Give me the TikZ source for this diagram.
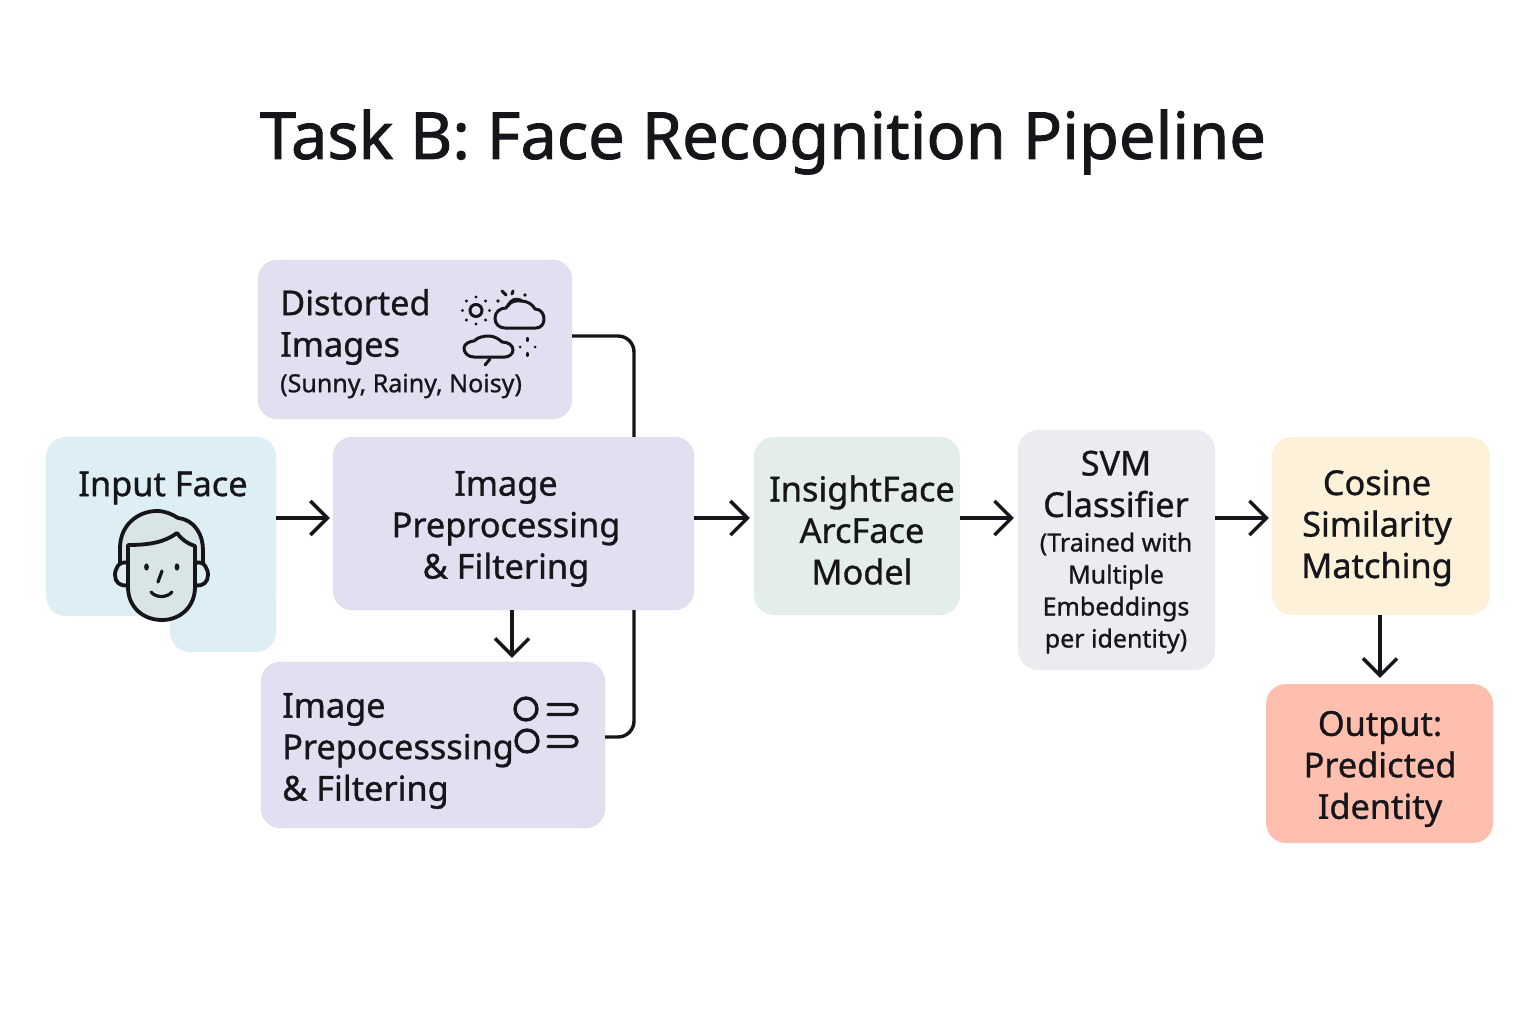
\documentclass[tikz,border=0pt]{standalone}
\usepackage{fontspec}
\setmainfont{Noto Sans}[FakeBold=0.9]
\newfontfamily\headfont{Noto Sans}[FakeBold=1.4]
\usetikzlibrary{arrows.meta}
\definecolor{inputblue}{HTML}{DDEEF5}
\definecolor{lavender}{HTML}{E2E0F0}
\definecolor{lavenderedge}{HTML}{DAD8EA}
\definecolor{modelgreen}{HTML}{E2EEE7}
\definecolor{svmgray}{HTML}{ECECF0}
\definecolor{cosinecream}{HTML}{FDF1DA}
\definecolor{outputred}{HTML}{FFBFAE}
\definecolor{inkblack}{HTML}{15151A}
\definecolor{facegray}{HTML}{D8E4E6}
\tikzset{
	box/.style={rounded corners=20pt,inner sep=0pt},
	label/.style={align=center,text=inkblack,inner sep=0pt,font=\fontsize{34.3}{41.5}\selectfont},
	leftlabel/.style={label,align=left,anchor=west},
	small/.style={font=\fontsize{25}{32}\selectfont},
	link/.style={draw=inkblack,line width=3.4pt,rounded corners=16pt},
	flow/.style={draw=inkblack,line width=3.4pt,-{Straight Barb[length=17pt,width=34pt,line width=3.4pt]}},
	icon/.style={draw=inkblack,line width=3pt,line cap=round,line join=round},
	dot/.style={fill=inkblack,draw=none}
}
\begin{document}
\begin{tikzpicture}[x=1pt,y=-1pt]
	\useasboundingbox (0,0) rectangle (1536,1024);
	\node[label,font=\headfont\fontsize{65}{70}\selectfont] (title) at (763,142) {Task B: Face Recognition Pipeline};
	% boxes
	\node[box,fill=inputblue,minimum width=106pt,minimum height=215pt] (inputlow) at (223,544.5) {};
	\node[box,fill=inputblue,minimum width=230pt,minimum height=179pt] (input) at (161,526.5) {};
	\node[box,fill=lavender,draw=lavenderedge,minimum width=314pt,minimum height=159pt] (distorted) at (415,339.5) {};
	\node[box,fill=lavender,draw=lavenderedge,minimum width=361pt,minimum height=173pt] (prep) at (513.5,523.5) {};
	\node[box,fill=lavender,draw=lavenderedge,minimum width=344pt,minimum height=166pt] (filter) at (433,745) {};
	\node[box,fill=modelgreen,minimum width=206pt,minimum height=178pt] (model) at (857,526) {};
	\node[box,fill=svmgray,minimum width=197pt,minimum height=240pt] (svm) at (1116.5,550) {};
	\node[box,fill=cosinecream,minimum width=218pt,minimum height=178pt] (cosine) at (1381,526) {};
	\node[box,fill=outputred,minimum width=227pt,minimum height=159pt] (output) at (1379.5,763.5) {};
	% texts
	\node[label] (inputtext) at (163,488) {Input Face};
	\node[leftlabel] (distortedtext) at (280,327) {Distorted\\Images};
	\node[leftlabel,small] (distortedsub) at (280,386) {(Sunny, Rainy, Noisy)};
	\node[label] (preptext) at (506,529) {Image\\Preprocessing\\\& Filtering};
	\node[leftlabel] (filtertext) at (282,751) {Image\\Prepocesssing\\\& Filtering};
	\node[label] (modeltext) at (862,530) {InsightFace\\ArcFace\\Model};
	\node[label] (svmtext) at (1116,484) {SVM\\Classifier};
	\node[label,small] (svmsub) at (1116,593) {(Trained with\\Multiple\\Embeddings\\per identity)};
	\node[label] (cosinetext) at (1377,528) {Cosine\\Similarity\\Matching};
	\node[label] (outputtext) at (1380,769) {Output:\\Predicted\\Identity};
	% connectors
	\coordinate (midrow) at (0,518);
	\coordinate (upperlink) at (634,336);
	\coordinate (lowerlink) at (634,737);
	\coordinate (downrow) at (512,0);
	\coordinate (outcol) at (1380,0);
	\draw[link] (distorted.east |- upperlink) -- (upperlink) -- (upperlink |- prep.north);
	\draw[link] (filter.east |- lowerlink) -- (lowerlink) -- (lowerlink |- prep.south);
	\draw[flow,shorten >=3pt] (input.east |- midrow) -- (prep.west |- midrow);
	\draw[flow,shorten >=4pt] (prep.east |- midrow) -- (model.west |- midrow);
	\draw[flow,shorten >=4pt] (model.east |- midrow) -- (svm.west |- midrow);
	\draw[flow,shorten >=3pt] (svm.east |- midrow) -- (cosine.west |- midrow);
	\draw[flow,shorten >=4pt] (prep.south -| downrow) -- (filter.north -| downrow);
	\draw[flow,shorten >=6pt] (cosine.south -| outcol) -- (output.north -| outcol);
	% face
	\filldraw[icon,line width=3.8pt,fill=facegray] (120,567) -- (120,548) .. controls (120,525) and (138,511) .. (157,511) .. controls (165,511) and (172,514) .. (178,518) .. controls (195,520) and (203,535) .. (203,550) -- (203,567) -- cycle;
	\filldraw[icon,line width=3.8pt,fill=inputblue] (128,563) .. controls (118,560) and (115,570) .. (115,575) .. controls (115,582) and (120,587) .. (128,585);
	\filldraw[icon,line width=3.8pt,fill=inputblue] (195,563) .. controls (205,560) and (208,570) .. (208,575) .. controls (208,582) and (203,587) .. (195,585);
	\filldraw[icon,line width=3.8pt,fill=facegray] (128,545) .. controls (150,545) and (165,542) .. (177,533) .. controls (181,539) and (188,544) .. (195,546) -- (195,587) .. controls (195,607) and (180,620) .. (162,620) .. controls (143,620) and (128,607) .. (128,587) -- cycle;
	\fill[dot] (146.5,567) ellipse (2.4pt and 3.6pt);
	\fill[dot] (177,567) ellipse (2.4pt and 3.6pt);
	\draw[icon,line width=3.2pt] (162,571) -- (158,582);
	\draw[icon,line width=3.2pt] (151,592) .. controls (156,598) and (167,598) .. (172,592);
	% weather
	\draw[icon] (476,310.5) circle (6pt);
	\foreach \a in {0,45,...,315}
		\fill[dot] (476,310.5) ++(\a:13.5pt) circle (1.7pt);
	\draw[icon] (508,306) .. controls (510,300) and (516,297) .. (522,301);
	\draw[icon] (505,328) .. controls (499,328) and (495,324) .. (495,318) .. controls (495,312) and (500,308) .. (506,308) .. controls (509,302) and (515,300) .. (521,301) .. controls (528,301) and (533,305) .. (535,309) .. controls (541,309) and (544,314) .. (544,319) .. controls (544,324) and (541,328) .. (536,328) -- cycle;
	\draw[icon] (502,291) -- (506,295);
	\draw[icon] (513,291) -- (512,294);
	\fill[dot] (525,295) circle (1.8pt);
	\fill[dot] (498,301) circle (1.8pt);
	\draw[icon] (474,357) .. controls (468,357) and (464,353) .. (464,348) .. controls (464,344) and (470,341) .. (474,341) .. controls (478,337) and (484,336) .. (489,336) .. controls (494,336) and (499,339) .. (502,342) .. controls (508,342) and (513,345) .. (513,350) .. controls (513,354) and (509,357) .. (505,357) -- cycle;
	\draw[icon] (490,359) -- (485,365);
	\draw[icon,line width=2.2pt] (527.5,338) -- (527.5,341);
	\draw[icon,line width=2.2pt] (527.5,353) -- (527.5,356);
	\fill[dot] (520,347) circle (1.5pt);
	\fill[dot] (535,347) circle (1.5pt);
	% filter icon
	\draw[icon,line width=3.4pt] (526,709) circle (11pt);
	\draw[icon,line width=3.4pt] (527,741) circle (11pt);
	\draw[icon,line width=3.4pt] (548,704.5) -- (572,704.5) arc (90:-90:5pt) -- (548,714.5);
	\draw[icon,line width=3.4pt] (548,736.5) -- (572,736.5) arc (90:-90:5pt) -- (548,746.5);
\end{tikzpicture}
\end{document}
